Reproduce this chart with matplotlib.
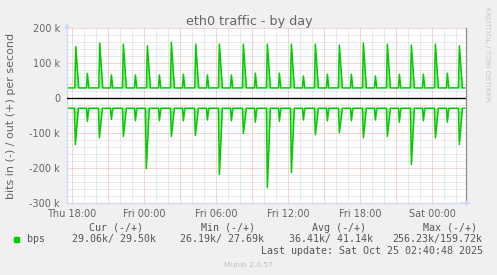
import matplotlib
matplotlib.use("Agg")
import matplotlib.pyplot as plt
from matplotlib.patches import Rectangle

# time axis: hours since Thu 00:00, values in kbit/s
out_big_hours = [18.31, 20.31, 22.28, 24.28, 26.28, 28.31, 30.28, 32.28, 34.28,
                 36.28, 38.28, 40.28, 42.28, 44.28, 46.28, 48.28, 50.28]
out_big_kbps = [147, 157, 154, 149, 159, 154, 154, 154, 154,
                154, 154, 151, 157, 154, 151, 154, 149]
out_small_hours = [19.28, 21.28, 23.28, 25.28, 27.28, 29.28, 31.28, 33.28,
                   35.28, 37.28, 39.28, 41.28, 43.28, 45.28, 47.28, 49.28]
out_small_kbps = [70, 66, 66, 66, 68, 66, 66, 71, 71, 63, 68, 68, 63, 68, 68, 71]

in_big_hours = [18.28, 20.28, 22.28, 24.19, 26.28, 28.28, 30.28, 32.28, 34.28,
                36.28, 38.28, 40.28, 42.28, 44.28, 46.28, 48.28, 50.28]
in_big_kbps = [133, 114, 110, 202, 110, 107, 219, 101, 256,
               213, 105, 99, 114, 110, 190, 114, 133]
in_small_hours = [19.28, 21.28, 23.28, 25.28, 27.28, 29.28, 31.28, 33.28,
                  35.28, 37.28, 39.28, 41.28, 43.28, 45.28, 47.28, 49.28]
in_small_kbps = [67, 61, 65, 65, 65, 63, 65, 69, 67, 63, 65, 65, 63, 69, 65, 69]

out_base = 28.8
in_base = 29.2
data_start, data_end = 17.6, 50.72

xtick_hours = [18, 24, 30, 36, 42, 48]
xtick_labels = ["Thu 18:00", "Fri 00:00", "Fri 06:00", "Fri 12:00", "Fri 18:00", "Sat 00:00"]
ytick_vals = [200, 100, 0, -100, -200, -300]
ytick_labels = ["200 k", "100 k", "0", "-100 k", "-200 k", "-300 k"]

legend_heads = ["Cur (-/+)", "Min (-/+)", "Avg (-/+)", "Max (-/+)"]
legend_vals = ["29.06k/ 29.50k", "26.19k/ 27.69k", "36.41k/ 41.14k", "256.23k/159.72k"]

GREEN = "#00CC00"
FONT = "#666666"


def spike_series(big_t, big_v, small_t, small_v, base, sign):
    spikes = sorted([(t, v, 0.25) for t, v in zip(big_t, big_v)]
                    + [(t, v, 0.12) for t, v in zip(small_t, small_v)])
    xs, ys = [data_start], [base]
    for t, v, w in spikes:
        xs += [t - 0.08, t, t + w]
        ys += [base, v, base]
    xs.append(data_end)
    ys.append(base)
    return xs, [sign * y for y in ys]


W, H = 497, 275
fig = plt.figure(figsize=(W / 100, H / 100), dpi=100, facecolor="#F0F0F0")
ax = fig.add_axes([67 / W, 72 / H, 399 / W, 175 / H])
ax.set_facecolor("white")
ax.set_xlim(17.583, 50.833)
ax.set_ylim(-300, 200)

# grid
for h in range(18, 51):
    c = "#F0A8A8" if h % 3 == 0 else "#D4D4D4"
    ax.axvline(h, color=c, lw=0.72, ls=(0, (1, 1)), zorder=0)
for y in range(-300, 201, 20):
    c = "#F0A8A8" if y % 100 == 0 else "#D4D4D4"
    ax.axhline(y, color=c, lw=0.72, ls=(0, (1, 1)), zorder=0)

ox, oy = spike_series(out_big_hours, out_big_kbps, out_small_hours, out_small_kbps, out_base, 1)
ix, iy = spike_series(in_big_hours, in_big_kbps, in_small_hours, in_small_kbps, in_base, -1)
ax.fill_between(ox, oy, out_base, color=GREEN, alpha=0.35, lw=0, zorder=1)
ax.fill_between(ix, iy, -in_base, color=GREEN, alpha=0.35, lw=0, zorder=1)
ax.plot(ox, oy, color=GREEN, lw=1.1, zorder=2)
ax.plot(ix, iy, color=GREEN, lw=1.1, zorder=2)
ax.axhline(0, color="black", lw=1.0, zorder=3)

for s in ["top"]:
    ax.spines[s].set_visible(False)
ax.spines["left"].set_color("#CFD6F8")
ax.spines["bottom"].set_color("#CFD6F8")
ax.spines["right"].set_color("#8C8C8C")
for s in ["left", "bottom", "right"]:
    ax.spines[s].set_linewidth(0.9)
ax.annotate("", xy=(0, 1 + 8 / 175), xytext=(0, 0.98), xycoords="axes fraction",
            arrowprops=dict(arrowstyle="-|>", color="#CFD6F8", lw=0.9, mutation_scale=7))
ax.annotate("", xy=(1 + 8 / 399, 0), xytext=(0.98, 0), xycoords="axes fraction",
            arrowprops=dict(arrowstyle="-|>", color="#CFD6F8", lw=0.9, mutation_scale=7))

ax.set_xticks(xtick_hours, xtick_labels)
ax.set_yticks(ytick_vals, ytick_labels)
ax.tick_params(length=0, labelsize=7, colors=FONT)
ax.tick_params(axis="y", pad=5)
ax.tick_params(axis="x", pad=4)

fig.text(249 / W, 1 - 25.5 / H, "eth0 traffic - by day", ha="center", va="baseline",
         fontsize=9.2, color=FONT)
fig.text(11 / W, 1 - 115.5 / H, "bits in (-) / out (+) per second", rotation=90,
         ha="center", va="center", fontsize=8, color=FONT)
fig.text(487 / W, 1 - 53.5 / H, "RRDTOOL / TOBI OETIKER", rotation=270,
         ha="center", va="center", fontsize=5.4, color="#C8C8C8")

mono = dict(family="DejaVu Sans Mono", fontsize=7.2, color="#555555", va="baseline")
for x, s in zip([89, 201, 312, 423], legend_heads):
    fig.text(x / W, 1 - 230.7 / H, s, ha="left", **mono)
fig.text(27 / W, 1 - 242.3 / H, "bps", ha="left", **mono)
for x, s in zip([72, 180, 289, 392], legend_vals):
    fig.text(x / W, 1 - 242.3 / H, s, ha="left", **mono)
fig.add_artist(Rectangle((14 / W, 1 - 242 / H), 5 / W, 5 / H, color=GREEN,
                         transform=fig.transFigure))
fig.text(483 / W, 1 - 254 / H, "Last update: Sat Oct 25 02:40:48 2025", ha="right", **mono)
fig.text(248 / W, 1 - 266.7 / H, "Munin 2.0.57", ha="center", va="baseline",
         fontsize=5.4, color="#C0C0C0")

fig.savefig("out.png", dpi=100, facecolor=fig.get_facecolor())
